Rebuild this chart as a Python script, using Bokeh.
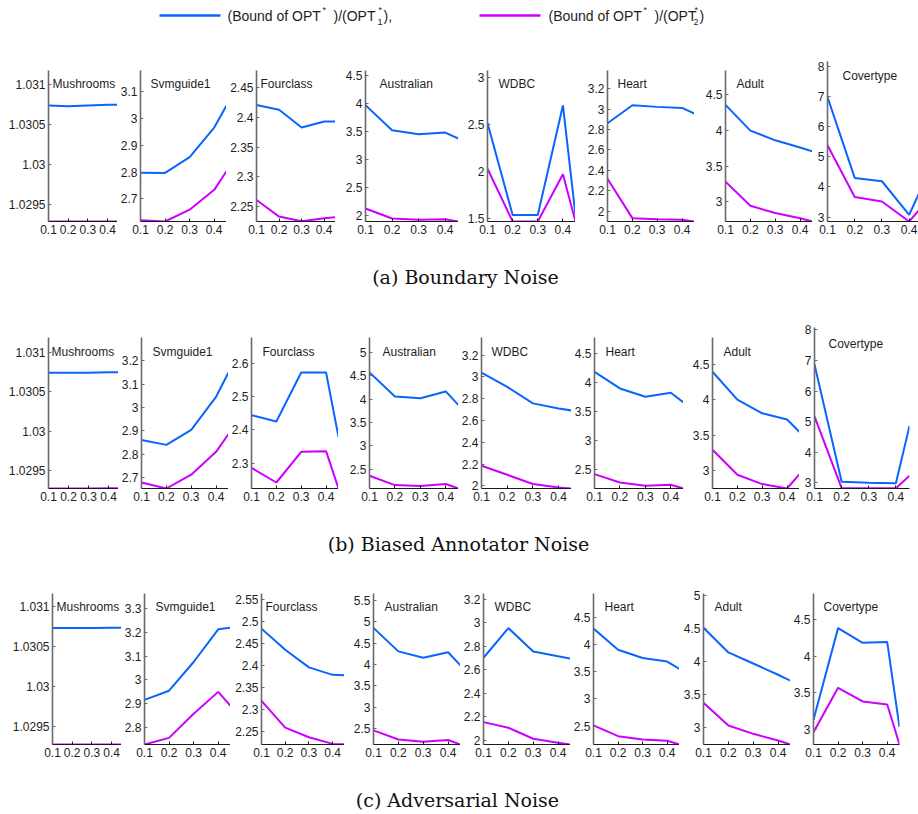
from bokeh.plotting import figure
from bokeh.layouts import column, row
from bokeh.models import Range1d, FixedTicker, CustomJSTickFormatter, Label
from bokeh.embed import file_html
from bokeh.resources import INLINE
from bokeh.core.properties import value

# ---------------- data ----------------
datasets = ["Mushrooms", "Svmguide1", "Fourclass", "Australian", "WDBC", "Heart", "Adult", "Covertype"]
noise_rates = [0.1, 0.2, 0.3, 0.4, 0.45]
x_ticks = [0.1, 0.2, 0.3, 0.4]
captions = ["(a)  Boundary Noise", "(b)  Biased Annotator Noise", "(c)  Adversarial Noise"]

# (Bound of OPT*)/(OPT1*)  -- blue
boundary_ratio1 = [
    [1.03074, 1.03073, 1.03074, 1.03075, 1.03075],
    [2.798, 2.797, 2.856, 2.966, 3.048],
    [2.421, 2.413, 2.383, 2.393, 2.393],
    [3.971, 3.525, 3.454, 3.482, 3.375],
    [2.517, 1.532, 1.532, 2.705, 1.532],
    [2.862, 3.039, 3.023, 3.013, 2.957],
    [4.356, 3.996, 3.860, 3.760, 3.705],
    [6.98, 4.30, 4.19, 3.08, 4.06],
]
# (Bound of OPT*)/(OPT2*)  -- magenta
boundary_ratio2 = [
    [1.02928, 1.02928, 1.02928, 1.02928, 1.02928],
    [2.621, 2.616, 2.660, 2.734, 2.803],
    [2.261, 2.233, 2.225, 2.230, 2.232],
    [2.130, 1.952, 1.930, 1.940, 1.898],
    [2.028, 1.463, 1.463, 1.968, 1.463],
    [2.318, 1.931, 1.920, 1.915, 1.898],
    [3.281, 2.944, 2.842, 2.770, 2.724],
    [5.38, 3.67, 3.52, 2.857, 3.38],
]
boundary_ylim = [(1.02928, 1.03118), (2.616, 3.1785), (2.2247, 2.479), (1.898, 4.589),
                 (1.463, 3.079), (1.898, 3.38), (2.724, 4.837), (2.857, 8.156)]
boundary_yticks = [[1.0295, 1.03, 1.0305, 1.031], [2.7, 2.8, 2.9, 3, 3.1], [2.25, 2.3, 2.35, 2.4, 2.45],
                   [2, 2.5, 3, 3.5, 4, 4.5], [1.5, 2, 2.5, 3], [2, 2.2, 2.4, 2.6, 2.8, 3, 3.2],
                   [3, 3.5, 4, 4.5], [3, 4, 5, 6, 7, 8]]

biased_ratio1 = [
    [1.030742, 1.030742, 1.030743, 1.030748, 1.030748],
    [2.861, 2.840, 2.904, 3.046, 3.150],
    [2.444, 2.425, 2.572, 2.572, 2.379],
    [4.571, 4.056, 4.020, 4.164, 3.870],
    [3.040, 2.908, 2.757, 2.710, 2.692],
    [4.178, 3.891, 3.747, 3.816, 3.650],
    [4.392, 4.000, 3.808, 3.720, 3.546],
    [6.87, 3.03, 3.00, 2.98, 4.86],
]
biased_ratio2 = [
    [1.029275, 1.029275, 1.029276, 1.029278, 1.029278],
    [2.679, 2.653, 2.712, 2.810, 2.886],
    [2.286, 2.242, 2.334, 2.336, 2.224],
    [2.356, 2.157, 2.140, 2.180, 2.084],
    [2.184, 2.101, 2.016, 1.985, 1.975],
    [2.414, 2.270, 2.212, 2.230, 2.166],
    [3.295, 2.944, 2.813, 2.751, 2.953],
    [5.17, 2.82, 2.82, 2.82, 3.23],
]
biased_ylim = [(1.029275, 1.03119), (2.653, 3.3), (2.224, 2.677), (2.084, 5.32),
               (1.975, 3.362), (2.166, 4.769), (2.751, 4.874), (2.81, 8.08)]
biased_yticks = [[1.0295, 1.03, 1.0305, 1.031], [2.7, 2.8, 2.9, 3, 3.1, 3.2], [2.3, 2.4, 2.5, 2.6],
                 [2.5, 3, 3.5, 4, 4.5, 5], [2, 2.2, 2.4, 2.6, 2.8, 3, 3.2], [2.5, 3, 3.5, 4, 4.5],
                 [3, 3.5, 4, 4.5], [3, 4, 5, 6, 7, 8]]

adversarial_ratio1 = [
    [1.030736, 1.030736, 1.030736, 1.030737, 1.030737],
    [2.915, 2.954, 3.075, 3.213, 3.220],
    [2.483, 2.435, 2.395, 2.378, 2.377],
    [4.86, 4.31, 4.16, 4.29, 3.98],
    [2.703, 2.955, 2.757, 2.715, 2.695],
    [4.297, 3.908, 3.754, 3.690, 3.555],
    [4.509, 4.137, 3.970, 3.800, 3.710],
    [3.136, 4.38, 4.18, 4.19, 3.035],
]
adversarial_ratio2 = [
    [1.029274, 1.029274, 1.029274, 1.029274, 1.029274],
    [2.727, 2.755, 2.857, 2.949, 2.890],
    [2.319, 2.258, 2.236, 2.221, 2.220],
    [2.455, 2.240, 2.190, 2.230, 2.124],
    [2.156, 2.108, 2.015, 1.980, 1.966],
    [2.513, 2.316, 2.254, 2.230, 2.162],
    [3.378, 3.035, 2.909, 2.808, 2.748],
    [2.967, 3.57, 3.385, 3.344, 2.80],
]
adversarial_ylim = [(1.029274, 1.031168), (2.727, 3.364), (2.2196, 2.563), (2.124, 5.668),
                    (1.966, 3.249), (2.162, 4.943), (2.748, 5.026), (2.8, 4.85)]
adversarial_yticks = [[1.0295, 1.03, 1.0305, 1.031], [2.8, 2.9, 3, 3.1, 3.2, 3.3],
                      [2.25, 2.3, 2.35, 2.4, 2.45, 2.5, 2.55], [2.5, 3, 3.5, 4, 4.5, 5, 5.5],
                      [2, 2.2, 2.4, 2.6, 2.8, 3, 3.2], [2.5, 3, 3.5, 4, 4.5], [3, 3.5, 4, 4.5, 5],
                      [3, 3.5, 4, 4.5]]

# ---------------- style / layout ----------------
W = 918
FONT = "Liberation Sans"
BLUE = "#0a64ff"
MAGENTA = "#cc00ff"
TEXT_COLOR = "#1e1e1e"

row_layouts = [
    dict(y0=55, y1=245, bottom=221, tops=[70] * 7 + [61],
         axis=[48, 139, 255, 364, 486, 606, 724, 826],
         right=[117, 225, 334, 457, 574, 693, 811, 918],
         tdx=[4, 10, 4, 14, 11, 10, 11, 15], tdy=[13] * 7 + [14],
         xend=[0.45] * 7 + [0.438]),
    dict(y0=320, y1=510, bottom=488, tops=[337] * 7 + [327],
         axis=[48, 139, 249, 367, 479, 589, 707, 809],
         right=[118, 226, 336, 456, 569, 678, 794, 904],
         tdx=[3, 11, 11, 13, 10, 11, 11, 14], tdy=[14] * 7 + [16],
         xend=[0.45] * 8),
    dict(y0=585, y1=765, bottom=744, tops=[593] * 8,
         axis=[52, 144, 261, 373, 483, 593, 703, 813],
         right=[121, 230, 344, 460, 570, 679, 790, 899],
         tdx=[4, 11, 4, 11, 11, 11, 11, 10], tdy=[13] * 8,
         xend=[0.45] * 8),
]

formatter_code = "return String(parseFloat(tick.toFixed(6)));"


def make_panel(name, r1, r2, ylim, yticks, xend, lb, fw, rb, tb, fh, bb, tdx, tdy):
    p = figure(frame_width=fw, frame_height=fh,
               x_range=Range1d(0.1, xend), y_range=Range1d(ylim[0], ylim[1]),
               output_backend="svg", toolbar_location=None,
               min_border_left=lb, min_border_right=rb,
               min_border_top=tb, min_border_bottom=bb)
    p.frame_align = False
    p.outline_line_color = None
    p.grid.visible = False
    p.background_fill_color = "white"
    p.border_fill_color = "white"
    p.line(noise_rates, r1, color=BLUE, line_width=2)
    p.line(noise_rates, r2, color=MAGENTA, line_width=2)

    p.xaxis.ticker = FixedTicker(ticks=x_ticks)
    p.yaxis.ticker = FixedTicker(ticks=yticks)
    for ax in (p.xaxis[0], p.yaxis[0]):
        ax.formatter = CustomJSTickFormatter(code=formatter_code)
        ax.major_tick_in = 3
        ax.major_tick_out = 0
        ax.minor_tick_line_color = None
        ax.major_label_text_font = FONT
        ax.major_label_text_font_size = "12px"
        ax.major_label_text_color = TEXT_COLOR
        ax.major_label_standoff = 3
    p.yaxis.axis_line_color = "#6a6a6a"
    p.yaxis.axis_line_width = 1.6
    p.yaxis.major_tick_line_color = "#6a6a6a"
    p.xaxis.axis_line_color = "#1a1a1a"
    p.xaxis.axis_line_width = 1.2
    p.xaxis.major_tick_line_color = "#1a1a1a"

    p.add_layout(Label(x=0.1, y=ylim[1], x_offset=tdx, y_offset=-tdy, text=name,
                       text_font=FONT, text_font_size="12px", text_color=TEXT_COLOR,
                       text_align="left", text_baseline="middle"))
    return p


def make_row(lay, r1s, r2s, ylims, ytickss):
    figs = []
    prev_right = 0
    for i, name in enumerate(datasets):
        lb = lay["axis"][i] - prev_right
        fw = lay["right"][i] - lay["axis"][i]
        rb = (W - lay["right"][i]) if i == len(datasets) - 1 else 0
        tb = lay["tops"][i] - lay["y0"]
        fh = lay["bottom"] - lay["tops"][i]
        bb = lay["y1"] - lay["bottom"]
        figs.append(make_panel(name, r1s[i], r2s[i], ylims[i], ytickss[i], lay["xend"][i],
                               lb, fw, rb, tb, fh, bb, lay["tdx"][i], lay["tdy"][i]))
        prev_right = lay["right"][i]
    return row(*figs)


def blank_fig(h):
    p = figure(frame_width=W, frame_height=h, x_range=Range1d(0, W), y_range=Range1d(h, 0),
               output_backend="svg", toolbar_location=None,
               x_axis_location=None, y_axis_location=None,
               min_border_left=0, min_border_right=0, min_border_top=0, min_border_bottom=0)
    p.frame_align = False
    p.outline_line_color = None
    p.grid.visible = False
    return p


def caption_fig(h, text, cx, cy):
    p = blank_fig(h)
    p.text(x=[cx], y=[cy], text=[text], text_font=value("DejaVu Serif"),
           text_font_size="19px", text_color="#111111",
           text_align="center", text_baseline="middle")
    return p


# ---------------- legend ----------------
leg = blank_fig(55)
ly = 15
leg.segment(x0=[159, 479], y0=[ly, ly], x1=[220, 540], y1=[ly, ly],
            color=[BLUE, MAGENTA], line_width=2.5)
main_txt = dict(text_font=value(FONT), text_font_size="14px", text_color=TEXT_COLOR,
                text_baseline="middle", text_align="left")
small_txt = dict(text_font=value(FONT), text_font_size="9px", text_color=TEXT_COLOR,
                 text_baseline="middle", text_align="left")
leg.text(x=[227, 333, 383, 548, 654, 699], y=[ly] * 6,
         text=["(Bound of OPT", ")/(OPT", "),", "(Bound of OPT", ")/(OPT", ")"], **main_txt)
leg.text(x=[322, 378, 643, 694], y=[ly - 6] * 4, text=["*", "*", "*", "*"], **small_txt)
leg.text(x=[377, 693], y=[ly + 6] * 2, text=["1", "2"], **small_txt)

# ---------------- assemble ----------------
row1 = make_row(row_layouts[0], boundary_ratio1, boundary_ratio2, boundary_ylim, boundary_yticks)
row2 = make_row(row_layouts[1], biased_ratio1, biased_ratio2, biased_ylim, biased_yticks)
row3 = make_row(row_layouts[2], adversarial_ratio1, adversarial_ratio2, adversarial_ylim, adversarial_yticks)

cap1 = caption_fig(75, captions[0], 468, 31)
cap2 = caption_fig(75, captions[1], 461, 33)
cap3 = caption_fig(49, captions[2], 460, 34)

layout = column(leg, row1, cap1, row2, cap2, row3, cap3)

open("out.html", "w").write(file_html(layout, INLINE))
